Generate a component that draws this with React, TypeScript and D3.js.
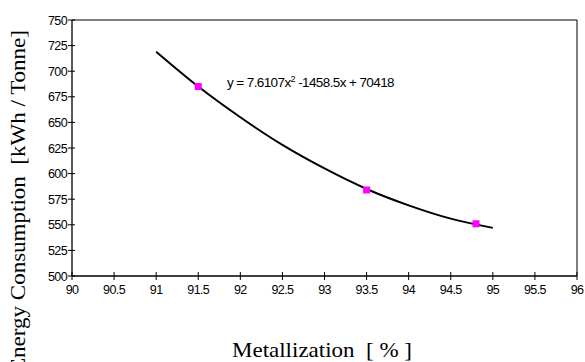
import React from "react";
import * as d3 from "d3";

const pointX = [91.5, 93.5, 94.8];
const pointY = [685, 584, 551];
const trendX = [91, 91.5, 92, 92.5, 93, 93.5, 94, 94.5, 95];
const trendY = [719, 685, 655, 628, 605, 585, 569, 556, 547];
const xTicks = [90, 90.5, 91, 91.5, 92, 92.5, 93, 93.5, 94, 94.5, 95, 95.5, 96];
const yTicks = [500, 525, 550, 575, 600, 625, 650, 675, 700, 725, 750];
const equation = ["y = 7.6107x", "2", " -1458.5x + 70418"];
const xTitle = "Metallization  [ % ]";
const yTitle = "Energy Consumption  [kWh / Tonne]";

const W = 585, H = 362;
const L = 72, R = 577, T = 20, B = 276;

export default function App() {
  const x = d3.scaleLinear().domain([90, 96]).range([L, R]);
  const y = d3.scaleLinear().domain([500, 750]).range([B, T]);
  const line = d3
    .line<number>()
    .x((d) => x(d))
    .y((_, i) => y(trendY[i]))
    .curve(d3.curveCatmullRom);
  const sans = "'Liberation Sans', Arial, sans-serif";
  const serif = "'Liberation Serif', 'Times New Roman', serif";
  return (
    <svg
      width={W}
      height={H}
      style={{ position: "fixed", left: 0, top: 0, background: "#fff" }}
    >
      <rect x={0} y={0} width={W} height={H} fill="#fff" />
      <path d={`M${L},${T}H${R}V${B}`} fill="none" stroke="#000" strokeWidth={1} />
      <line x1={L} y1={T} x2={L} y2={B} stroke="#000" strokeWidth={1.3} />
      <line x1={L} y1={B} x2={R} y2={B} stroke="#000" strokeWidth={1.3} />
      {xTicks.map((t) => (
        <g key={"x" + t}>
          <line x1={x(t)} x2={x(t)} y1={B - 4} y2={B + 4} stroke="#000" />
          <text
            x={x(t)}
            y={B + 18}
            textAnchor="middle"
            fontFamily={sans}
            fontSize={12.5}
            letterSpacing={-0.6}
          >
            {t}
          </text>
        </g>
      ))}
      {yTicks.map((t) => (
        <g key={"y" + t}>
          <line x1={L - 4} x2={L + 3} y1={y(t)} y2={y(t)} stroke="#000" />
          <text
            x={L - 5}
            y={y(t) + 4.5}
            textAnchor="end"
            fontFamily={sans}
            fontSize={12.5}
            letterSpacing={-0.6}
          >
            {t}
          </text>
        </g>
      ))}
      <path d={line(trendX) || ""} fill="none" stroke="#000" strokeWidth={2} />
      {pointX.map((px, i) => (
        <rect
          key={"p" + i}
          x={x(px) - 3.5}
          y={y(pointY[i]) - 3.5}
          width={7}
          height={7}
          fill="#ff00ff"
        />
      ))}
      <text x={227} y={87} fontFamily={sans} fontSize={13.5} letterSpacing={-0.6}>
        {equation[0]}
        <tspan dy={-5} fontSize={9}>
          {equation[1]}
        </tspan>
        <tspan dy={5}>{equation[2]}</tspan>
      </text>
      <text
        x={232}
        y={357}
        fontFamily={serif}
        fontSize={21}
        textLength={180}
        lengthAdjust="spacingAndGlyphs"
        style={{ whiteSpace: "pre" }}
      >
        {xTitle}
      </text>
      <text
        transform={`translate(25,372) rotate(-90)`}
        fontFamily={serif}
        fontSize={21}
        textLength={342}
        lengthAdjust="spacingAndGlyphs"
        style={{ whiteSpace: "pre" }}
      >
        {yTitle}
      </text>
    </svg>
  );
}
